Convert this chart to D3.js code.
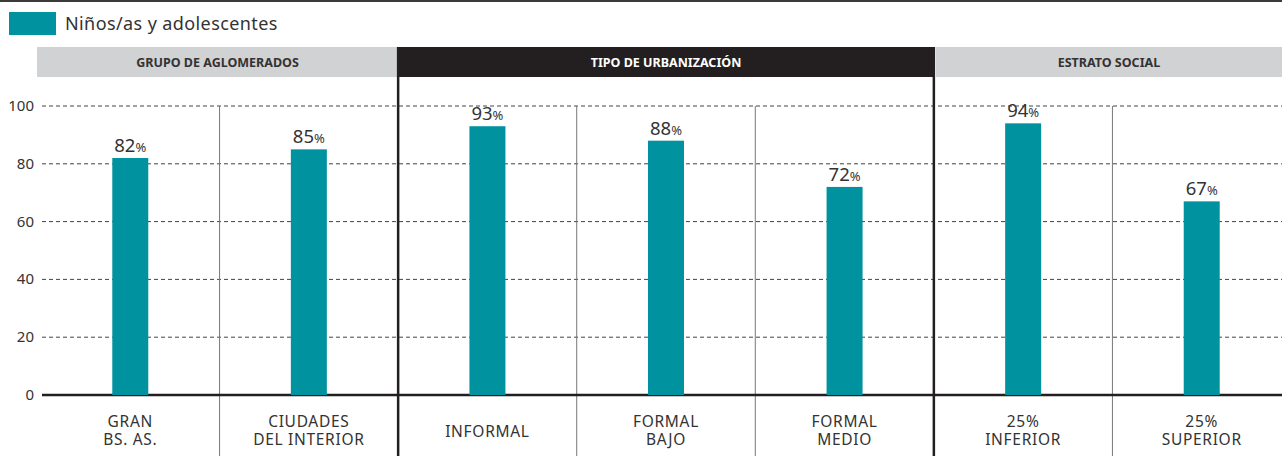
<!DOCTYPE html>
<html>
<head>
<meta charset="utf-8">
<script src="https://cdn.jsdelivr.net/npm/d3@7"></script>
<style>
  body { margin: 0; background: #fff; }
  text { font-family: "Noto Sans", sans-serif; }
</style>
</head>
<body>
<script>
/***********************************************************************************/
// Data

var categories = [["GRAN", "BS. AS."], ["CIUDADES", "DEL INTERIOR"], ["INFORMAL"], ["FORMAL", "BAJO"], ["FORMAL", "MEDIO"], ["25%", "INFERIOR"], ["25%", "SUPERIOR"]];
var values = [82, 85, 93, 88, 72, 94, 67];
var groups = ["GRUPO DE AGLOMERADOS", "TIPO DE URBANIZACIÓN", "ESTRATO SOCIAL"];
var groupSpans = [[0, 2], [2, 5], [5, 7]];
var yTicks = [0, 20, 40, 60, 80, 100];
var seriesName = "Niños/as y adolescentes";

/***********************************************************************************/
// Setup

var W = 1282, H = 456;
var teal = "#00929f", ink = "#231f20";

var svg = d3.select('body').append('svg').attr('width', W).attr('height', H);

var x = d3.scaleBand().domain(d3.range(categories.length)).range([41, 1291]);
var y = d3.scaleLinear().domain([0, 100]).range([395, 106]);

// top rule
svg.append('line').attr('x1', 0).attr('x2', W).attr('y1', 1).attr('y2', 1)
  .attr('stroke', '#3a3a3a').attr('stroke-width', 2);

// legend
svg.append('rect').attr('x', 9).attr('y', 12).attr('width', 47).attr('height', 23).attr('fill', teal);
svg.append('text').attr('x', 65).attr('y', 30).attr('font-size', 18).attr('letter-spacing', 0.4)
  .attr('fill', '#333').text(seriesName);

/***********************************************************************************/
// Group headers

groupSpans.forEach(function(s, i){
  var x0 = i == 0 ? 37 : x(s[0]) + (i == 2 ? 2 : 0);
  var x1 = i == 2 ? W : x(s[1]);
  var dark = i == 1;
  svg.append('rect').attr('x', x0).attr('y', 47).attr('width', x1 - x0).attr('height', 30)
    .attr('fill', dark ? ink : '#d1d2d4');
  svg.append('text').attr('x', (x0 + x1) / 2).attr('y', 66.5).attr('text-anchor', 'middle')
    .attr('font-size', 12.5).attr('font-weight', 'bold').attr('fill', dark ? '#fff' : '#333')
    .text(groups[i]);
});

/***********************************************************************************/
// Grid and axis

svg.selectAll('.grid').data(yTicks.filter(function(d){ return d > 0; })).enter().append('line')
  .attr('x1', 42).attr('x2', W).attr('y1', function(d){ return y(d); }).attr('y2', function(d){ return y(d); })
  .attr('stroke', '#444').attr('stroke-width', 1).attr('stroke-dasharray', '4,3');

svg.selectAll('.ytick').data(yTicks).enter().append('text')
  .attr('x', 34).attr('y', function(d){ return y(d) + 5; }).attr('text-anchor', 'end')
  .attr('font-size', 15).attr('fill', '#333').text(function(d){ return d; });

// thin dividers between categories
d3.range(1, categories.length).forEach(function(i){
  var thick = groupSpans.some(function(s){ return s[0] == i; });
  if(!thick){
    svg.append('line').attr('x1', x(i)).attr('x2', x(i)).attr('y1', y(100)).attr('y2', H)
      .attr('stroke', '#777').attr('stroke-width', 1);
  }
});

svg.append('line').attr('x1', 42).attr('x2', W).attr('y1', y(0)).attr('y2', y(0))
  .attr('stroke', ink).attr('stroke-width', 2.5);

// thick group dividers
groupSpans.slice(1).forEach(function(s){
  svg.append('line').attr('x1', x(s[0])).attr('x2', x(s[0])).attr('y1', 47).attr('y2', H)
    .attr('stroke', ink).attr('stroke-width', 2.5);
});

/***********************************************************************************/
// Bars

var bw = 36;
svg.selectAll('.bar').data(values).enter().append('rect')
  .attr('x', function(d, i){ return x(i) + x.bandwidth() / 2 - bw / 2; })
  .attr('y', function(d){ return y(d); })
  .attr('width', bw)
  .attr('height', function(d){ return y(0) - y(d); })
  .attr('fill', teal);

var lab = svg.selectAll('.lab').data(values).enter().append('text')
  .attr('x', function(d, i){ return x(i) + x.bandwidth() / 2; })
  .attr('y', function(d){ return y(d) - 6; })
  .attr('text-anchor', 'middle').attr('fill', '#333');
lab.append('tspan').attr('font-size', 18.5).text(function(d){ return d; });
lab.append('tspan').attr('font-size', 13).text('%');

/***********************************************************************************/
// Category labels

categories.forEach(function(c, i){
  c.forEach(function(line, j){
    svg.append('text').attr('x', x(i) + x.bandwidth() / 2).attr('text-anchor', 'middle')
      .attr('font-size', 15.5).attr('letter-spacing', 0.7).attr('fill', '#333')
      .attr('y', c.length == 1 ? 437 : 427 + j * 18)
      .text(line);
  });
});
</script>
</body>
</html>
